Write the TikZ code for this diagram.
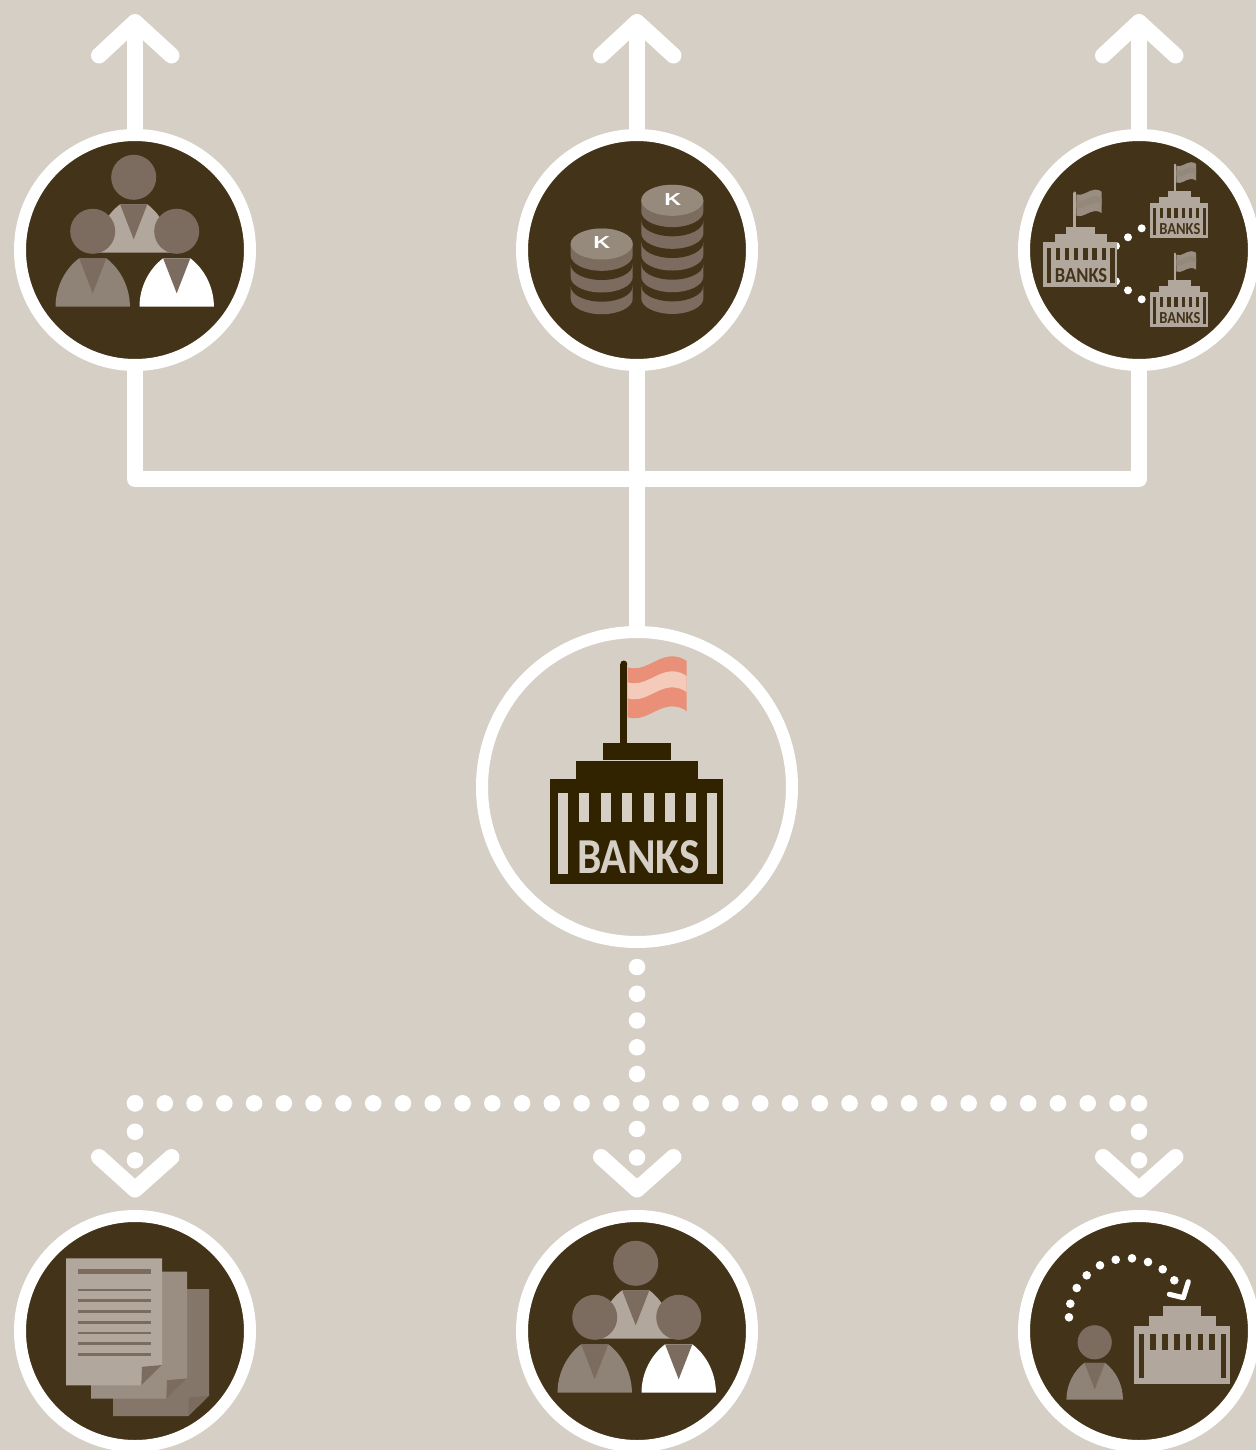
\documentclass[tikz,border=0pt]{standalone}
\usepackage{fontspec}
\newfontfamily\bankfont{Carlito}
\newfontfamily\coinfont{Liberation Sans}
\definecolor{paper}{HTML}{D5CFC6}
\definecolor{badgefill}{HTML}{433419}
\definecolor{bankdark}{HTML}{322300}
\definecolor{tiebrown}{HTML}{7C6C60}
\definecolor{bodylight}{HTML}{B1A79D}
\definecolor{bodymid}{HTML}{8F8377}
\definecolor{pagemid}{HTML}{9A8E82}
\definecolor{pagelow}{HTML}{85766A}
\definecolor{coinface}{HTML}{968A7D}
\definecolor{salmon}{HTML}{EA8F78}
\definecolor{salmonpale}{HTML}{F4CBBA}
\definecolor{flagdull}{HTML}{9A8E82}
\definecolor{flagdim}{HTML}{94887B}
\tikzset{
  badge/.style={circle,draw=white,line width=9pt,fill=badgefill,minimum size=172.5pt,inner sep=0pt,outer sep=0pt},
  bigbadge/.style={circle,draw=white,line width=9pt,fill=paper,minimum size=232.5pt,inner sep=0pt,outer sep=0pt},
  bus/.style={draw=white,line width=12pt,line join=round},
  chevron/.style={draw=white,line width=12pt,line join=round,line cap=round},
  dotspine/.style={draw=white,line width=12.4pt,line cap=round,dash pattern=on 0pt off 20.06pt,dash phase=1.3pt},
  dotrow/.style={draw=white,line width=12.4pt,line cap=round,dash pattern=on 0pt off 22.33pt},
  dotdrop/.style={draw=white,line width=12.4pt,line cap=round,dash pattern=on 0pt off 21.375pt},
  pics/person/.style={code={
    \fill[#1] (-37.2,75.4) .. controls (-37.2,55) and (-27,37) .. (-13.6,27) -- (13.6,27) .. controls (27,37) and (37.2,55) .. (37.2,75.4) -- cycle;
    \fill[tiebrown] (-13.6,27) -- (13.6,27) -- (0,62) -- cycle;
    \fill[tiebrown] (0,0) circle (22.5);
  }},
  pics/team/.style={code={
    \pic at (0,0) {person=bodylight};
    \pic at (-41,54) {person=bodymid};
    \pic at (43,54) {person=white};
  }},
  pics/coinstack/.style={code={
    \foreach \n in {#1,...,1} {
      \pgfmathsetmacro{\yc}{(\n-1)*21.7}
      \fill[badgefill] (-31,\yc) -- (-31,\yc+20.5) arc[start angle=180,end angle=0,x radius=31,y radius=15.5] -- (31,\yc) -- cycle;
      \fill[tiebrown] (-31,\yc) -- (-31,\yc+11.3) arc[start angle=180,end angle=0,x radius=31,y radius=15.5] -- (31,\yc) -- cycle;
      \fill[tiebrown] (0,\yc) ellipse[x radius=31,y radius=15.5];
    }
    \fill[coinface] (0,0) ellipse[x radius=31,y radius=15.5];
  }},
  pics/bankbody/.style 2 args={code={
    \fill[#1] (-86.65,0) rectangle (86.65,105);
    \fill[#1] (-60.35,-18) rectangle (61.65,0.5);
    \fill[#1] (-34,-35.7) rectangle (34.35,-19);
    \fill[#2] (-78.35,14) rectangle (-68.35,95);
    \fill[#2] (70.65,14) rectangle (80.65,95);
    \foreach \i in {0,...,5} {
      \fill[#2] ({-57.3+\i*21.4},14) rectangle ({-47.3+\i*21.4},43);
    }
  }},
  pics/bankflag/.style n args={3}{code={
    \fill[#1] (-16.35,-35) rectangle (-9.35,-115);
    \fill[#1] (-12.85,-115) circle (3.5);
    \foreach \a/\b/\c in {-111.7/-61.7/#2,-96.7/-80.7/#3} {
      \fill[\c] (-8.95,\a) .. controls (8,\a+5) and (18,\a-10) .. (35,\a-11) .. controls (41,\a-11) and (47,\a-9) .. (50,\a-6) -- (50,\b-6) .. controls (47,\b-9) and (41,\b-11) .. (35,\b-11) .. controls (18,\b-10) and (8,\b+5) .. (-8.95,\b) -- cycle;
    }
  }},
  pics/bankword/.style={code={
    \node[transform shape,inner sep=0pt,text=#1] (-word) at (1.7,77.7) {\resizebox{92pt}{24.75pt}{\bankfont\bfseries BANKS}};
  }},
  pics/docpage/.style={code={
    \fill[#1] (0,0) -- (96,0) -- (96,106.7) -- (75.3,127) -- (0,127) -- cycle;
    \fill[tiebrown] (75.3,127) -- (76,108.5) -- (96,106.7) -- cycle;
  }},
}
\begin{document}
\begin{tikzpicture}[x=0.75pt,y=-0.75pt]
\path[use as bounding box,clip] (0,0) rectangle (1256,1450);
\fill[paper] (0,0) rectangle (1256,1450);

% badges
\node[badge] (people) at (135,250) {};
\node[badge] (coins) at (637,250) {};
\node[badge] (peers) at (1139,250) {};
\node[bigbadge] (mainbank) at (637,787) {};
\node[badge] (papers) at (135,1331) {};
\node[badge] (staff) at (637,1331) {};
\node[badge] (transfer) at (1139,1331) {};

% solid connectors
\coordinate (hub) at (637,479);
\draw[bus] (people.south) |- (hub) -| (peers.south);
\draw[bus] (coins.south) -- (hub);
\draw[bus] (hub) -- (mainbank.north);
\foreach \tgt in {people,coins,peers} {
  \path (\tgt.north) ++(0,-113) coordinate (\tgt-tip);
  \draw[bus] (\tgt.north) -- (\tgt-tip);
  \draw[chevron] (\tgt-tip) ++(-36,33.5) -- (\tgt-tip) -- ++(36.5,33.5);
}

% dotted connectors
\coordinate (spine) at (637,1075);
\coordinate (rowa) at (135,1103.3);
\coordinate (rowc) at (1139,1103.3);
\coordinate (dropb) at (637,1129);
\foreach \tgt in {papers,staff,transfer} {
  \path (\tgt.north) ++(0,-26.5) coordinate (\tgt-tip);
  \draw[chevron] (\tgt-tip) ++(-36,-32.5) -- (\tgt-tip) -- ++(36.5,-32.5);
}
\draw[dotspine] (mainbank.south) -- (spine);
\draw[dotrow] (rowa) -- (rowc);
\draw[dotdrop] (rowa) -- (papers-tip);
\draw[dotdrop] (dropb) -- (staff-tip);
\draw[dotdrop] (rowc) -- (transfer-tip);

% people
\pic at (133.7,177.3) {team};

% coin stacks
\pic at (601.7,244) {coinstack=3};
\pic at (672.3,200.3) {coinstack=5};
\node[inner sep=0pt,text=white,xscale=1.35] (kleft) at (601.7,243) {\fontsize{13pt}{13pt}\coinfont\bfseries K};
\node[inner sep=0pt,text=white,xscale=1.35] (kright) at (672.8,199.5) {\fontsize{13pt}{13pt}\coinfont\bfseries K};

% peer banks
\foreach \y in {246,281.3} {
  \fill[white] (1116,\y) circle (4);
}
\foreach \x/\y in {1128/237.3,1141.7/228.3,1128/290.3,1141.7/299.3} {
  \fill[white] (\x,\y) circle (4);
}
\pic[scale=.427] at (1080.3,242) {bankbody={bodylight}{badgefill}};
\pic[scale=.427] at (1080.3,242) {bankflag={bodylight}{flagdull}{flagdim}};
\pic[scale=.427] (peerbig) at (1080.3,242) {bankword=badgefill};
\pic[scale=.335] at (1179.3,203.3) {bankbody={bodylight}{badgefill}};
\pic[scale=.335] at (1179.3,203.3) {bankflag={bodylight}{flagdull}{flagdim}};
\pic[scale=.335] (peerup) at (1179.3,203.3) {bankword=badgefill};
\pic[scale=.335] at (1179.3,292.3) {bankbody={bodylight}{badgefill}};
\pic[scale=.335] at (1179.3,292.3) {bankflag={bodylight}{flagdull}{flagdim}};
\pic[scale=.335] (peerdown) at (1179.3,292.3) {bankword=badgefill};

% main bank
\pic at (636.65,779) {bankbody={bankdark}{paper}};
\pic at (636.65,779) {bankflag={bankdark}{salmon}{salmonpale}};
\pic (bigbank) at (636.65,779) {bankword=paper};

% documents
\pic at (113,1289) {docpage=pagelow};
\pic at (91,1271.7) {docpage=pagemid};
\pic at (66,1258.3) {docpage=bodylight};
\fill[tiebrown] (77.7,1269) rectangle (151,1274.3);
\foreach \i in {0,...,6} {
  \fill[tiebrown] (77.7,{1288.7+\i*10.75}) rectangle (151,{1291.3+\i*10.75});
}

% staff
\pic at (635.7,1263.3) {team};

% transfer
\foreach \x/\y in {1069/1317.3,1070.3/1303.7,1076.7/1288,1086.7/1275.3,1100/1265.3,1115.7/1259.7,1132/1258.3,1148/1262,1162.7/1269.3,1174.3/1280.3} {
  \fill[white] (\x,\y) circle (4.3);
}
\draw[white,line width=3.8pt,line cap=round,line join=round] (1169.3,1294.3) -- (1183.3,1297.7) -- (1188.3,1281.7);
\pic[scale=.55] at (1182,1326) {bankbody={bodylight}{badgefill}};
\pic[scale=.76] at (1094.7,1342.3) {person=bodymid};
\end{tikzpicture}
\end{document}
